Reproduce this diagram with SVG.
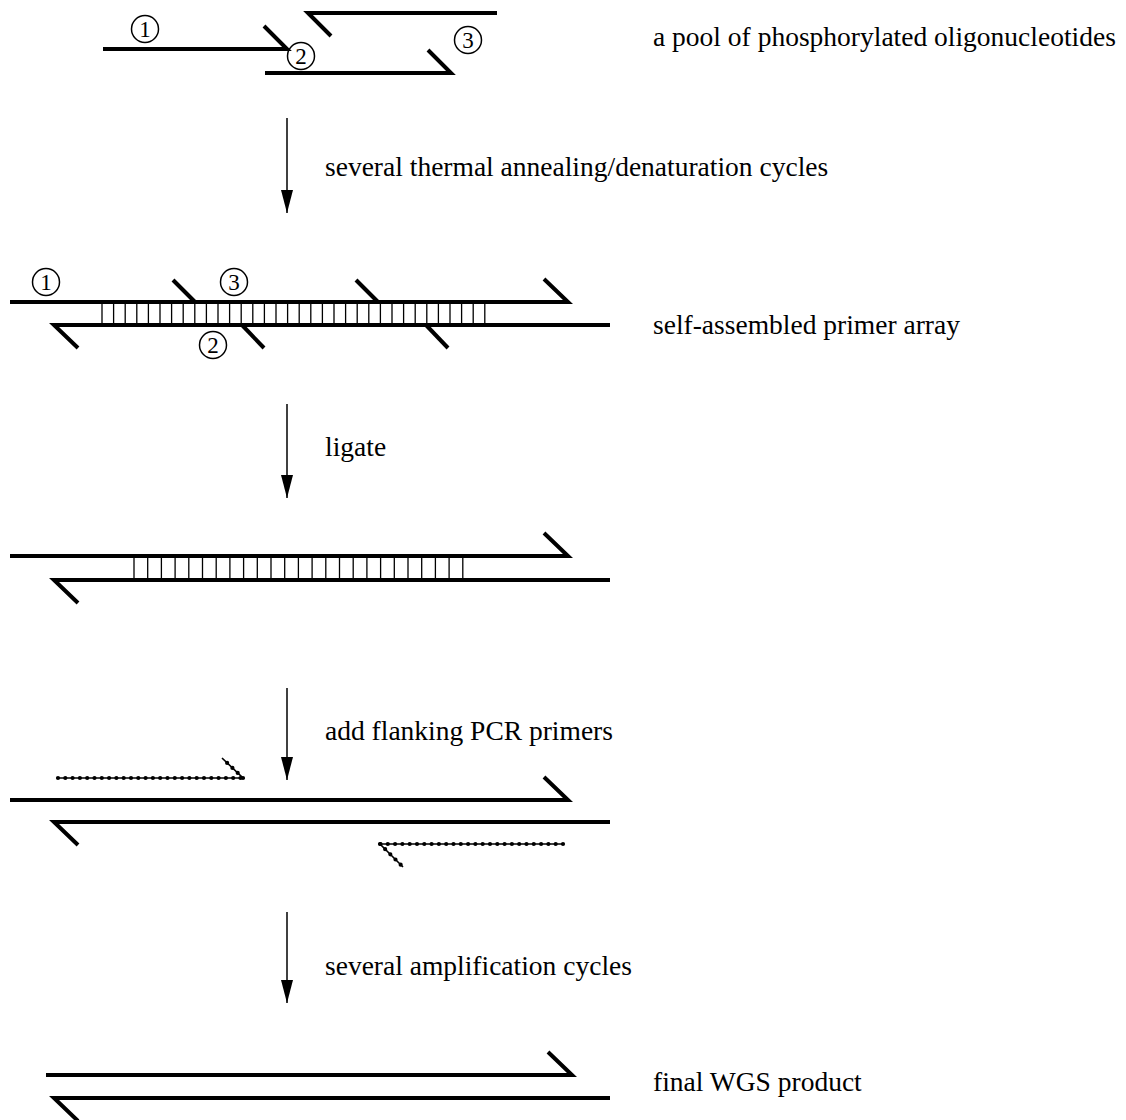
<svg xmlns="http://www.w3.org/2000/svg" width="1126" height="1120" viewBox="0 0 1126 1120">
<style>
.s{stroke:#000;stroke-width:4;fill:none;stroke-linecap:butt}
.r{stroke:#000;stroke-width:1.3}
.c{fill:#fff;fill-opacity:0;stroke:#000;stroke-width:1.5}
.n{font-family:"Liberation Serif",serif;font-size:23px;text-anchor:middle}
.t{font-family:"Liberation Serif",serif;font-size:27.5px}
.a{stroke:#000;stroke-width:1.5}
.pl{stroke:#000;stroke-width:1.6;fill:none}
.pd{stroke:#000;stroke-width:4.2;stroke-dasharray:0 7.3;stroke-linecap:round;fill:none}
</style>
<defs>
<marker id="ah" markerWidth="24" markerHeight="12" refX="23" refY="6" orient="auto" markerUnits="userSpaceOnUse" viewBox="0 0 24 12">
<path d="M0,0 L23,6 L0,12 Z" fill="#000"/>
</marker>
</defs>
<g id="step1">
<path class="s" d="M103,49 H287 L264,26"/>
<path class="s" d="M497,13 H308 L331,36"/>
<path class="s" d="M265,73 H451 L428,50"/>
<circle class="c" cx="145" cy="29" r="13.5"/><text class="n" x="145" y="37">1</text>
<circle class="c" cx="301" cy="56" r="13.5"/><text class="n" x="301" y="64">2</text>
<circle class="c" cx="468" cy="40" r="13.5"/><text class="n" x="468" y="48">3</text>
</g>
<g id="step2">
<path class="s" d="M10,302 H568 L544,279"/>
<path class="s" d="M610,325 H54 L78,348"/>
<path class="s" d="M173,280 L195,302"/>
<path class="s" d="M356,280 L378,302"/>
<path class="s" d="M242,325 L264,348"/>
<path class="s" d="M426,325 L448,348"/>
<path class="r" d="M102,302V325M113.6,302V325M125.2,302V325M136.8,302V325M148.4,302V325M160,302V325M171.6,302V325M183.2,302V325M194.8,302V325M206.4,302V325M218,302V325M229.6,302V325M241.2,302V325M252.8,302V325M264.4,302V325M276,302V325M287.6,302V325M299.2,302V325M310.8,302V325M322.4,302V325M334,302V325M345.6,302V325M357.2,302V325M368.8,302V325M380.4,302V325M392,302V325M403.6,302V325M415.2,302V325M426.8,302V325M438.4,302V325M450,302V325M461.6,302V325M473.2,302V325M484.8,302V325"/>
<circle class="c" cx="46" cy="282" r="13.5"/><text class="n" x="46" y="290">1</text>
<circle class="c" cx="234" cy="282" r="13.5"/><text class="n" x="234" y="290">3</text>
<circle class="c" cx="213" cy="345" r="13.5"/><text class="n" x="213" y="353">2</text>
</g>
<g id="step3">
<path class="s" d="M10,556 H568 L544,533"/>
<path class="s" d="M610,580 H54 L78,603"/>
<path class="r" d="M134,556V580M147.7,556V580M161.4,556V580M175.1,556V580M188.8,556V580M202.5,556V580M216.2,556V580M229.9,556V580M243.6,556V580M257.3,556V580M271,556V580M284.7,556V580M298.4,556V580M312.1,556V580M325.8,556V580M339.5,556V580M353.2,556V580M366.9,556V580M380.6,556V580M394.3,556V580M408,556V580M421.7,556V580M435.4,556V580M449.1,556V580M462.8,556V580"/>
</g>
<g id="step4">
<path class="s" d="M10,800 H568 L544,777"/>
<path class="s" d="M610,822 H54 L78,845"/>
<path class="pl" d="M58,778 H243 L222,758"/>
<path class="pd" d="M58,778 H243"/>
<path class="pd" d="M243,778 L222,758"/>
<path class="pl" d="M563,844 H380 L403,867"/>
<path class="pd" d="M563,844 H380"/>
<path class="pd" d="M380,844 L403,867"/>
</g>
<g id="step5">
<path class="s" d="M46,1075 H572 L548,1052"/>
<path class="s" d="M610,1098 H54 L78,1121"/>
</g>
<g id="labels">
<text class="t" x="653" y="46">a pool of phosphorylated oligonucleotides</text>
<text class="t" x="325" y="176">several thermal annealing/denaturation cycles</text>
<text class="t" x="653" y="334">self-assembled primer array</text>
<text class="t" x="325" y="456">ligate</text>
<text class="t" x="325" y="740">add flanking PCR primers</text>
<text class="t" x="325" y="975">several amplification cycles</text>
<text class="t" x="653" y="1091">final WGS product</text>
</g>
<g id="connectors">
<line class="a" x1="287" y1="118" x2="287" y2="213" marker-end="url(#ah)"/>
<line class="a" x1="287" y1="404" x2="287" y2="498" marker-end="url(#ah)"/>
<line class="a" x1="287" y1="688" x2="287" y2="780" marker-end="url(#ah)"/>
<line class="a" x1="287" y1="912" x2="287" y2="1003" marker-end="url(#ah)"/>
</g>
</svg>
